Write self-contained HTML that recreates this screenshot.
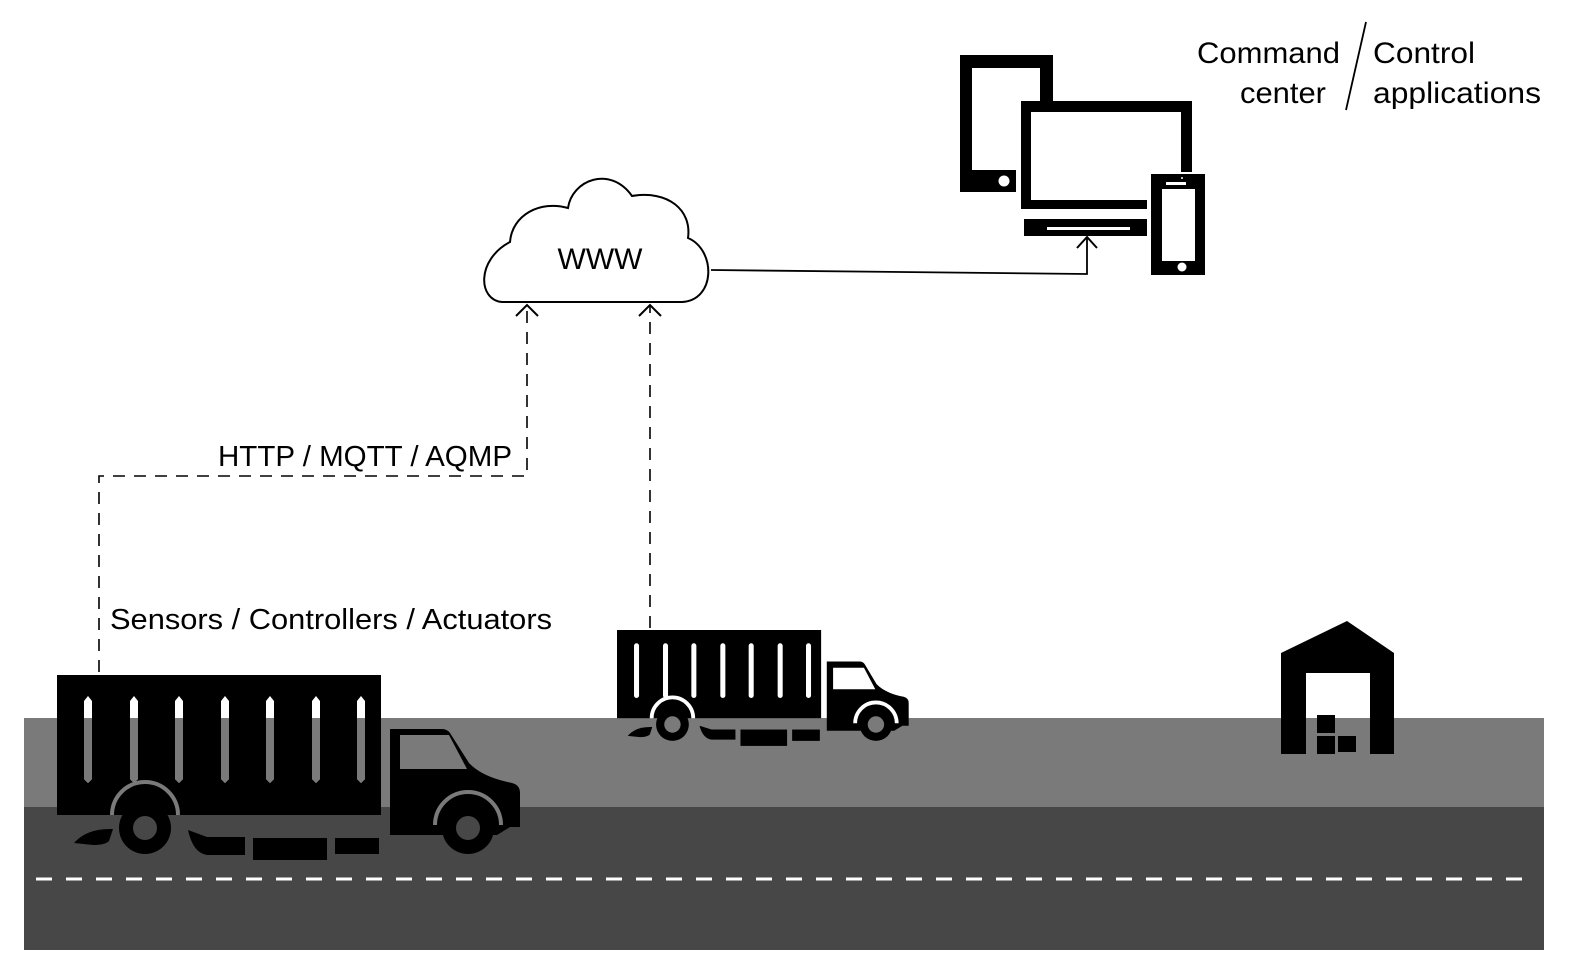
<!DOCTYPE html>
<html><head><meta charset="utf-8"><style>
html,body{margin:0;padding:0;background:#fff}
svg{display:block}
text{font-family:"Liberation Sans",sans-serif;fill:#000}
</style></head><body>
<svg width="1576" height="979" viewBox="0 0 1576 979" xmlns="http://www.w3.org/2000/svg">
<!-- road -->
<rect x="24" y="718" width="1520" height="90" fill="#7a7a7a"/>
<rect x="24" y="807" width="1520" height="143" fill="#474747"/>
<line x1="36" y1="879" x2="1530" y2="879" stroke="#fff" stroke-width="3" stroke-dasharray="16,14"/>

<!-- dashed connectors -->
<path d="M99,672 V476 H527 V306" fill="none" stroke="#000" stroke-width="1.6" stroke-dasharray="12,9"/>
<path d="M650,628 V306" fill="none" stroke="#000" stroke-width="1.6" stroke-dasharray="12,9"/>
<path d="M516,316 L527,305 L538,316" fill="none" stroke="#000" stroke-width="2"/>
<path d="M639,316 L650,305 L661,316" fill="none" stroke="#000" stroke-width="2"/>

<!-- cloud -->
<path d="M502,302 C478,300 476,260 510,242 C512,215 540,200 568,208 C572,180 610,165 632,196 C668,190 692,210 688,238 C716,250 716,300 682,302 Z" fill="#fff" stroke="#000" stroke-width="2"/>
<text x="600" y="269" font-size="30" text-anchor="middle">WWW</text>

<!-- line to devices -->
<path d="M711,270 L1087,274 V237" fill="none" stroke="#000" stroke-width="1.8"/>
<path d="M1077,248 L1087,237 L1097,248" fill="none" stroke="#000" stroke-width="2"/>

<!-- devices -->
<rect x="960" y="55" width="93" height="137" fill="#000"/>
<rect x="972" y="68" width="68" height="102" fill="#fff"/>
<circle cx="1004" cy="181" r="5.5" fill="#fff"/>
<rect x="1016" y="101" width="176" height="112" fill="#fff"/>
<rect x="1021" y="101" width="171" height="108" fill="#000"/>
<rect x="1031" y="112" width="150" height="88" fill="#fff"/>
<rect x="1024" y="219" width="130" height="17" fill="#000"/>
<rect x="1047" y="227" width="83" height="3" fill="#fff"/>
<rect x="1147" y="172" width="62" height="106" fill="#fff"/>
<rect x="1151" y="174" width="54" height="101" fill="#000"/>
<rect x="1162" y="189" width="33" height="72" fill="#fff"/>
<rect x="1166" y="182" width="20" height="3" fill="#fff"/>
<circle cx="1182" cy="178" r="1" fill="#fff"/>
<circle cx="1182" cy="267" r="4.5" fill="#fff"/>

<!-- titles -->
<text x="1197" y="63" font-size="30" textLength="143" lengthAdjust="spacingAndGlyphs">Command</text>
<text x="1240" y="103" font-size="30" textLength="86" lengthAdjust="spacingAndGlyphs">center</text>
<text x="1373" y="63" font-size="30" textLength="102" lengthAdjust="spacingAndGlyphs">Control</text>
<text x="1373" y="103" font-size="30" textLength="168" lengthAdjust="spacingAndGlyphs">applications</text>
<line x1="1366" y1="22" x2="1346" y2="110" stroke="#000" stroke-width="1.8"/>

<text x="218" y="466" font-size="29" textLength="294" lengthAdjust="spacingAndGlyphs">HTTP / MQTT / AQMP</text>
<text x="110" y="629" font-size="29" textLength="442" lengthAdjust="spacingAndGlyphs">Sensors / Controllers / Actuators</text>

<!-- big truck -->
<g transform="translate(57,675)">
  <rect x="0" y="0" width="324" height="140" fill="#000"/>
  <g fill="#fff">
    <path d="M27,26 L31,21 L35,26 V104 L31,108 L27,104 Z"/>
    <path d="M73,26 L77,21 L81,26 V104 L77,108 L73,104 Z"/>
    <path d="M118,26 L122,21 L126,26 V104 L122,108 L118,104 Z"/>
    <path d="M164,26 L168,21 L172,26 V104 L168,108 L164,104 Z"/>
    <path d="M209,26 L213,21 L217,26 V104 L213,108 L209,104 Z"/>
    <path d="M255,26 L259,21 L263,26 V104 L259,108 L255,104 Z"/>
    <path d="M300,26 L304,21 L308,26 V104 L304,108 L300,104 Z"/>
  </g>
  <g fill="#7a7a7a">
    <path d="M27,43 H35 V104 L31,108 L27,104 Z"/>
    <path d="M73,43 H81 V104 L77,108 L73,104 Z"/>
    <path d="M118,43 H126 V104 L122,108 L118,104 Z"/>
    <path d="M164,43 H172 V104 L168,108 L164,104 Z"/>
    <path d="M209,43 H217 V104 L213,108 L209,104 Z"/>
    <path d="M255,43 H263 V104 L259,108 L255,104 Z"/>
    <path d="M300,43 H308 V104 L304,108 L300,104 Z"/>
  </g>
  <path d="M333,54 H385 Q390,54 393,58 L412,88 Q425,102 455,108 Q463,110 463,118 V152 H453 L440,160 H333 Z" fill="#000"/>
  <path d="M343,60 H392 L410,94 H343 Z" fill="#7a7a7a"/>
  <path d="M55,140 A33,33 0 0 1 121,140" fill="none" stroke="#7a7a7a" stroke-width="4"/>
  <path d="M378,150 A33,33 0 0 1 444,150" fill="none" stroke="#7a7a7a" stroke-width="4"/>
  <path d="M17,168 Q30,153 56,154 L52,166 Q48,170 36,170 Z" fill="#000"/>
  <path d="M131,155 L150,162 H188 V180 H150 Q136,178 131,155Z" fill="#000"/>
  <rect x="196" y="163" width="74" height="22" fill="#000"/>
  <rect x="278" y="163" width="44" height="16" fill="#000"/>
  <circle cx="88" cy="153" r="26" fill="#000"/>
  <circle cx="88" cy="153" r="12" fill="#474747"/>
  <circle cx="411" cy="153" r="26" fill="#000"/>
  <circle cx="411" cy="153" r="12" fill="#474747"/>
</g>

<!-- small truck -->
<g transform="translate(617,630) scale(0.63)">
  <rect x="0" y="0" width="324" height="140" fill="#000"/>
  <g fill="#fff">
    <rect x="27" y="21" width="8" height="87" rx="4"/>
    <rect x="73" y="21" width="8" height="87" rx="4"/>
    <rect x="118" y="21" width="8" height="87" rx="4"/>
    <rect x="164" y="21" width="8" height="87" rx="4"/>
    <rect x="209" y="21" width="8" height="87" rx="4"/>
    <rect x="255" y="21" width="8" height="87" rx="4"/>
    <rect x="300" y="21" width="8" height="87" rx="4"/>
  </g>
  <path d="M333,50 H385 Q390,50 393,54 L412,86 Q425,100 455,106 Q463,108 463,116 V152 H453 L440,160 H333 Z" fill="#000"/>
  <path d="M343,60 H392 L410,94 H343 Z" fill="#fff"/>
  <path d="M55,140 A33,33 0 0 1 121,140" fill="none" stroke="#fff" stroke-width="6"/>
  <path d="M378,148 A33,33 0 0 1 444,148" fill="none" stroke="#fff" stroke-width="6"/>
  <path d="M17,168 Q30,153 56,154 L52,166 Q48,170 36,170 Z" fill="#000"/>
  <path d="M131,152 L150,158 H188 V174 H150 Q136,172 131,152Z" fill="#000"/>
  <rect x="196" y="158" width="74" height="26" fill="#000"/>
  <rect x="278" y="158" width="44" height="18" fill="#000"/>
  <circle cx="88" cy="150" r="26" fill="#000"/>
  <circle cx="88" cy="150" r="13" fill="#7a7a7a"/>
  <circle cx="411" cy="150" r="26" fill="#000"/>
  <circle cx="411" cy="150" r="13" fill="#7a7a7a"/>
</g>

<!-- warehouse -->
<path d="M1281,653 L1347,621 L1394,653 V754 H1370 V673 H1306 V754 H1281 Z" fill="#000"/>
<rect x="1317" y="715" width="18" height="18" fill="#000"/>
<rect x="1317" y="736" width="18" height="18" fill="#000"/>
<rect x="1338" y="736" width="18" height="16" fill="#000"/>
</svg>
</body></html>
